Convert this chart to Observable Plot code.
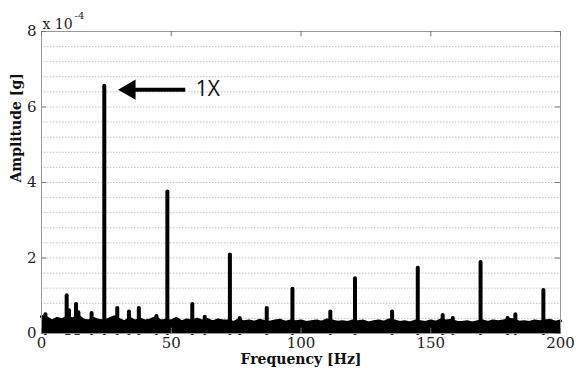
<!DOCTYPE html>
<html>
<head>
<meta charset="utf-8">
<script src="https://cdn.jsdelivr.net/npm/d3@7"></script>
<script src="https://cdn.jsdelivr.net/npm/@observablehq/plot@0.6"></script>
<style>
  html, body { margin: 0; padding: 0; background: #fff; }
  #chart { width: 577px; height: 371px; }
</style>
</head>
<body>
<div id="chart"></div>
<script>
// ---- Data (amplitudes in units of 1e-4 g) ----
const ampExponent = "-4";
const floorFreq = [0,2,4,6,8,10,12,14,16,18,20,22,24,26,28,30,32,34,36,38,40,42,44,46,48,50,52,54,56,58,60,62,64,66,68,70,72,74,76,78,80,82,84,86,88,90,92,94,96,98,100,102,104,106,108,110,112,114,116,118,120,122,124,126,128,130,132,134,136,138,140,142,144,146,148,150,152,154,156,158,160,162,164,166,168,170,172,174,176,178,180,182,184,186,188,190,192,194,196,198,200];
const floorAmp = [0.45,0.42,0.33,0.40,0.36,0.44,0.38,0.48,0.36,0.33,0.40,0.35,0.33,0.38,0.44,0.37,0.31,0.40,0.33,0.38,0.33,0.36,0.42,0.33,0.35,0.33,0.40,0.31,0.36,0.33,0.38,0.33,0.37,0.31,0.36,0.33,0.33,0.29,0.36,0.31,0.33,0.30,0.35,0.31,0.30,0.33,0.35,0.30,0.33,0.31,0.33,0.29,0.31,0.33,0.30,0.36,0.33,0.30,0.31,0.29,0.33,0.31,0.33,0.28,0.31,0.33,0.30,0.36,0.33,0.29,0.31,0.28,0.33,0.31,0.29,0.33,0.30,0.36,0.33,0.35,0.30,0.29,0.31,0.28,0.31,0.33,0.29,0.33,0.31,0.33,0.38,0.36,0.30,0.31,0.29,0.33,0.31,0.33,0.35,0.30,0.33];
const peakFreq = [24.2,48.5,72.6,96.7,120.8,145.0,169.2,193.4, 1.5,9.7,10.6,13.3,14.2,19.3,29.2,33.7,37.5,44.3,58.1,62.9,76.4,86.8,111.3,135.1,154.6,158.5,179.6,182.6];
const peakAmp  = [6.55,3.75,2.08,1.17,1.45,1.73,1.88,1.14, 0.50,1.00,0.60,0.77,0.55,0.53,0.66,0.57,0.66,0.45,0.77,0.43,0.40,0.66,0.57,0.57,0.48,0.40,0.40,0.50];
const xTicks = [0,50,100,150,200];
const yTicks = [0,2,4,6,8];
const gridLevels = [0.4,0.8,1.2,1.6,2.0,2.4,2.8,3.2,3.6,4.0,4.4,4.8,5.2,5.6,6.0,6.4,6.8,7.2,7.6];
const arrowFrom = [55.4, 6.46];
const arrowTo = [36.0, 6.46];
const arrowHead = [34.0, 6.46];
const annotLabel = "1X";
const annotPos = [59.4, 6.46];

const floor = floorFreq.map((f, i) => ({f, a: floorAmp[i]}));
const peaks = peakFreq.map((f, i) => ({f, a: peakAmp[i]}));

const serif = "DejaVu Serif";
const chart = Plot.plot({
  width: 577,
  height: 371,
  marginLeft: 41,
  marginRight: 17,
  marginTop: 31,
  marginBottom: 38,
  style: {fontFamily: serif, fontSize: "15px", color: "#222", background: "#fff"},
  x: {domain: [0, 200], label: null},
  y: {domain: [0, 8], label: null},
  marks: [
    Plot.ruleY(gridLevels, {y: d => d, stroke: "#c4c4c4", strokeDasharray: "1.5,1.5", strokeWidth: 1}),
    Plot.areaY(floor, {x: "f", y: "a", fill: "#000", curve: "linear"}),
    Plot.line(floor, {x: "f", y: "a", stroke: "#000", strokeWidth: 3, strokeLinejoin: "round"}),
    Plot.ruleX(peaks, {x: "f", y1: 0, y2: "a", stroke: "#000", strokeWidth: 4, strokeLinecap: "round"}),
    Plot.frame({stroke: "#999", strokeWidth: 1}),
    // inward ticks
    Plot.ruleY(yTicks, {y: d => d, x1: 0, x2: 2, stroke: "#777"}),
    Plot.ruleY(yTicks, {y: d => d, x1: 198, x2: 200, stroke: "#777"}),
    Plot.ruleX(xTicks, {x: d => d, y1: 7.86, y2: 8, stroke: "#777"}),
    Plot.ruleX(xTicks, {x: d => d, y1: 0, y2: 0.14, stroke: "#777"}),
    Plot.axisY(yTicks, {tickSize: 0, tickPadding: 5, fontSize: 15, fill: "#222", label: null}),
    Plot.axisX(xTicks, {tickSize: 0, tickPadding: 4, fontSize: 15, fill: "#222", label: null}),
    // axis titles
    Plot.text(["Amplitude [g]"], {frameAnchor: "left", dx: -25, rotate: -90, fontWeight: "bold", fontSize: 14, fill: "#111"}),
    Plot.text(["Frequency [Hz]"], {frameAnchor: "bottom", dy: 30, fontWeight: "bold", fontSize: 14, fill: "#111"}),
    Plot.text(["x 10"], {frameAnchor: "top-left", dx: 1, dy: -12, textAnchor: "start", fontSize: 14, fill: "#222"}),
    Plot.text([ampExponent], {frameAnchor: "top-left", dx: 33, dy: -20, textAnchor: "start", fontSize: 10, fill: "#222"}),
    // annotation arrow
    Plot.link([0], {x1: () => arrowFrom[0], y1: () => arrowFrom[1], x2: () => arrowTo[0], y2: () => arrowTo[1], stroke: "#000", strokeWidth: 4}),
    Plot.dot([0], {x: () => arrowHead[0], y: () => arrowHead[1], symbol: "triangle", r: 7.5, rotate: -90, fill: "#000", stroke: "none"}),
    Plot.text([annotLabel], {x: () => annotPos[0], y: () => annotPos[1], textAnchor: "start", fontFamily: "Open Sans", fontSize: 21, fill: "#111"})
  ]
});
document.getElementById("chart").appendChild(chart);
</script>
</body>
</html>
